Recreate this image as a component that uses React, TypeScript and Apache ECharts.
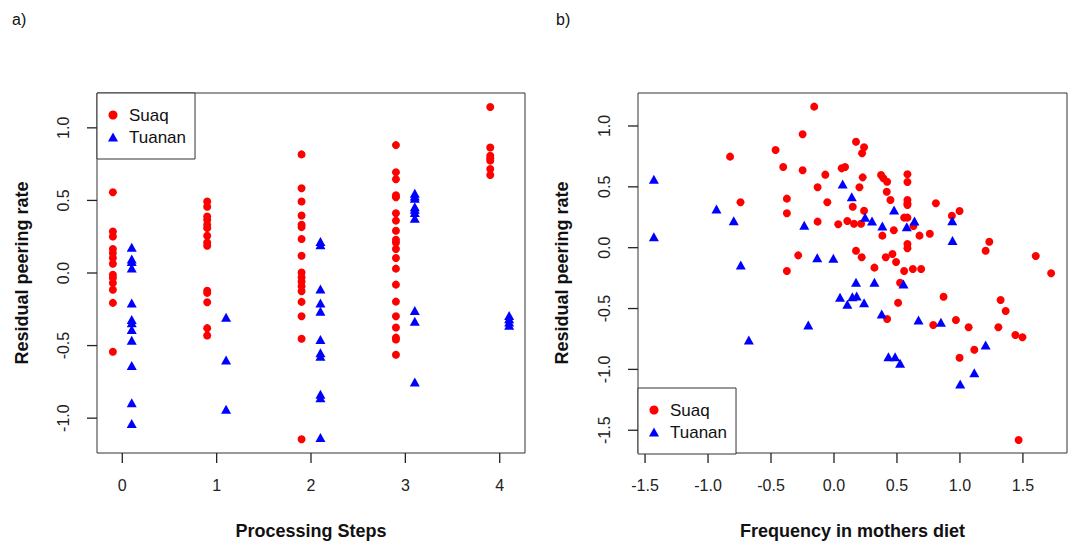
import React, { useEffect, useRef } from "react";
import * as echarts from "echarts";

// ---------- Data: panel a) residual peering rate by processing steps ----------
const steps = [0, 1, 2, 3, 4];
const stepTicks = [0, 1, 2, 3, 4];

const suaqByStep: number[][] = [
  [0.556, 0.286, 0.251, 0.165, 0.137, 0.103, 0.064, -0.012, -0.034, -0.069, -0.115, -0.206, -0.543],
  [0.492, 0.457, 0.389, 0.366, 0.332, 0.309, 0.256, 0.21, 0.188, -0.122, -0.137, -0.202, -0.38, -0.431],
  [0.817, 0.584, 0.492, 0.396, 0.332, 0.316, 0.234, 0.119, 0.004, -0.03, -0.058, -0.092, -0.126, -0.199, -0.298, -0.453, -1.145],
  [0.881, 0.694, 0.646, 0.536, 0.522, 0.412, 0.361, 0.291, 0.229, 0.21, 0.165, 0.103, 0.03, -0.08, -0.197, -0.298, -0.376, -0.445, -0.458, -0.563],
  [1.144, 0.865, 0.808, 0.79, 0.774, 0.716, 0.675],
];

const tuananByStep: number[][] = [
  [0.178, 0.096, 0.08, 0.034, -0.206, -0.321, -0.343, -0.389, -0.463, -0.637, -0.893, -1.037],
  [-0.305, -0.6, -0.939],
  [0.217, 0.194, -0.11, -0.206, -0.264, -0.458, -0.55, -0.573, -0.836, -0.859, -1.133],
  [0.549, 0.531, 0.515, 0.457, 0.439, 0.416, 0.378, -0.259, -0.332, -0.751],
  [-0.293, -0.316, -0.337, -0.36],
];

const leftYTicks = [-1, -0.5, 0, 0.5, 1];

// ---------- Data: panel b) residual peering rate vs frequency in mothers diet ----------
const suaqDiet: [number, number][] = [
  [-0.157, 1.159], [-0.249, 0.932], [-0.464, 0.803], [-0.825, 0.748], [-0.403, 0.663],
  [-0.249, 0.636], [-0.069, 0.6], [-0.13, 0.496], [-0.742, 0.373], [-0.053, 0.373],
  [-0.374, 0.403], [-0.374, 0.283], [-0.13, 0.214], [-0.284, -0.063], [-0.374, -0.191],
  [0.175, 0.871], [0.239, 0.825], [0.223, 0.776], [0.061, 0.652], [0.088, 0.663],
  [0.228, 0.578], [0.202, 0.496], [0.374, 0.597], [0.392, 0.57], [0.422, 0.542],
  [0.583, 0.603], [0.583, 0.54], [0.419, 0.46], [0.448, 0.392], [0.583, 0.392],
  [0.583, 0.364], [0.583, 0.351], [0.809, 0.365], [0.149, 0.337], [0.239, 0.304],
  [0.997, 0.302], [0.936, 0.263], [0.034, 0.192], [0.106, 0.219], [0.159, 0.197],
  [0.215, 0.197], [0.557, 0.247], [0.583, 0.247], [0.631, 0.178], [0.475, 0.143],
  [0.384, 0.099], [0.679, 0.099], [0.761, 0.115], [0.583, 0.03], [0.583, -0.005],
  [1.233, 0.049], [1.204, -0.025], [0.175, -0.025], [0.22, -0.079], [0.411, -0.079],
  [0.464, -0.052], [0.493, -0.118], [0.321, -0.164], [0.557, -0.191], [0.626, -0.175],
  [0.692, -0.175], [1.602, -0.068], [1.724, -0.21], [0.525, -0.288], [0.509, -0.452],
  [0.87, -0.403], [1.323, -0.43], [1.363, -0.52], [0.422, -0.586], [0.788, -0.635],
  [0.968, -0.594], [1.069, -0.654], [1.305, -0.654], [1.44, -0.717], [1.496, -0.736],
  [1.114, -0.838], [0.997, -0.904], [1.466, -1.58],
];

const tuananDiet: [number, number][] = [
  [-1.43, 0.562], [-1.43, 0.09], [-0.933, 0.318], [-0.796, 0.222], [-0.74, -0.142],
  [-0.676, -0.758], [-0.236, 0.184], [-0.204, -0.635], [-0.133, -0.082], [-0.005, -0.087],
  [0.069, 0.523], [0.141, 0.419], [0.477, 0.31], [0.247, 0.25], [0.302, 0.219],
  [0.384, 0.178], [0.578, 0.173], [0.639, 0.219], [0.939, 0.222], [0.941, 0.06],
  [0.175, -0.284], [0.321, -0.284], [0.552, -0.298], [0.048, -0.408], [0.106, -0.465],
  [0.146, -0.403], [0.18, -0.397], [0.239, -0.452], [0.379, -0.545], [0.671, -0.594],
  [0.849, -0.613], [1.204, -0.8], [0.432, -0.896], [0.485, -0.896], [0.525, -0.95],
  [1.114, -1.027], [1.002, -1.12],
];

const rightXTicks = [-1.5, -1, -0.5, 0, 0.5, 1, 1.5];
const rightYTicks = [-1.5, -1, -0.5, 0, 0.5, 1];

const groupOffset = 0.1;

// axis ranges (R default: data range widened by 4 %)
const leftXRange: [number, number] = [-0.268, 4.268];
const leftYRange: [number, number] = [-1.24, 1.24];
const rightXRange: [number, number] = [-1.556, 1.85];
const rightYRange: [number, number] = [-1.687, 1.271];
const unitRange: [number, number] = [0, 1];

const FONT = '"Liberation Sans", Arial, Helvetica, sans-serif';
const RED = "#ff0000";
const BLUE = "#0000ff";
const AXIS = "#333333";
const TICK = "#222222";
const TICK_LEN = 10;

// plot boxes
const boxA = { left: 97, top: 93, width: 428, height: 360 };
const boxB = { left: 638, top: 93, width: 429, height: 360 };

function valueAxis(gridIndex: number, range: [number, number], ticks: number[], vertical: boolean, decimals: number) {
  return {
    type: "value",
    gridIndex,
    min: range[0],
    max: range[1],
    axisLine: { show: false, onZero: false },
    splitLine: { show: false },
    axisTick: { show: false },
    axisLabel: {
      customValues: ticks,
      margin: vertical ? 26 : 24,
      rotate: vertical ? 90 : 0,
      fontSize: 16,
      color: "#222",
      fontFamily: FONT,
      formatter: (v: number) => v.toFixed(decimals),
    },
  };
}

function hiddenAxis(gridIndex: number, range: [number, number]) {
  return { type: "value", gridIndex, min: range[0], max: range[1], show: false, splitLine: { show: false } };
}

// Tick marks: each drawn in a thin strip grid that shares the panel's axis range.
function tickSeries(gridIdx: number, ticks: number[], vertical: boolean) {
  return {
    type: "custom",
    xAxisIndex: gridIdx,
    yAxisIndex: gridIdx,
    clip: false,
    data: ticks.map((v) => (vertical ? [0, v] : [v, 0])),
    renderItem: (_params: any, api: any) => {
      const v0 = api.value(0);
      const v1 = api.value(1);
      const a = vertical ? api.coord([0, v1]) : api.coord([v0, 0]);
      const b = vertical ? api.coord([1, v1]) : api.coord([v0, 1]);
      return { type: "line", shape: { x1: a[0], y1: a[1], x2: b[0], y2: b[1] }, style: { stroke: TICK, lineWidth: 1.3 } };
    },
  };
}

function legendAt(left: number, top: number) {
  return {
    data: [
      { name: "Suaq", icon: "circle" },
      { name: "Tuanan", icon: "triangle" },
    ],
    orient: "vertical",
    left,
    top,
    itemWidth: 10,
    itemHeight: 9,
    itemGap: 4,
    padding: [13, 9, 13, 11],
    borderColor: AXIS,
    borderWidth: 1,
    borderRadius: 0,
    backgroundColor: "#ffffff",
    selectedMode: false,
    textStyle: { fontSize: 17, fontFamily: FONT, color: "#111", lineHeight: 18, padding: [0, 0, 0, 6] },
  };
}

export default function App() {
  const ref = useRef<HTMLDivElement>(null);

  useEffect(() => {
    if (!ref.current) return;
    const chart = echarts.init(ref.current, undefined, { renderer: "svg" });

    const suaqLeft: [number, number][] = [];
    const tuananLeft: [number, number][] = [];
    steps.forEach((s, i) => {
      suaqByStep[i].forEach((v) => suaqLeft.push([s - groupOffset, v]));
      tuananByStep[i].forEach((v) => tuananLeft.push([s + groupOffset, v]));
    });

    const red = { color: RED, opacity: 1 };
    const blue = { color: BLUE, opacity: 1 };

    const option = {
      animation: false,
      grid: [
        { ...boxA, show: true, borderColor: AXIS, borderWidth: 1 },
        { ...boxB, show: true, borderColor: AXIS, borderWidth: 1 },
        // tick strips: below and left of each plot box
        { left: boxA.left, top: boxA.top + boxA.height, width: boxA.width, height: TICK_LEN, show: false },
        { left: boxA.left - TICK_LEN, top: boxA.top, width: TICK_LEN, height: boxA.height, show: false },
        { left: boxB.left, top: boxB.top + boxB.height, width: boxB.width, height: TICK_LEN, show: false },
        { left: boxB.left - TICK_LEN, top: boxB.top, width: TICK_LEN, height: boxB.height, show: false },
      ],
      xAxis: [
        valueAxis(0, leftXRange, stepTicks, false, 0),
        valueAxis(1, rightXRange, rightXTicks, false, 1),
        hiddenAxis(2, leftXRange),
        hiddenAxis(3, unitRange),
        hiddenAxis(4, rightXRange),
        hiddenAxis(5, unitRange),
      ],
      yAxis: [
        valueAxis(0, leftYRange, leftYTicks, true, 1),
        valueAxis(1, rightYRange, rightYTicks, true, 1),
        hiddenAxis(2, unitRange),
        hiddenAxis(3, leftYRange),
        hiddenAxis(4, unitRange),
        hiddenAxis(5, rightYRange),
      ],
      legend: [legendAt(97, 93), legendAt(638, 388)],
      series: [
        { type: "scatter", name: "Suaq", xAxisIndex: 0, yAxisIndex: 0, symbol: "circle", symbolSize: 8, itemStyle: red, data: suaqLeft },
        { type: "scatter", name: "Tuanan", xAxisIndex: 0, yAxisIndex: 0, symbol: "triangle", symbolSize: [10, 9], itemStyle: blue, data: tuananLeft },
        { type: "scatter", name: "Suaq", xAxisIndex: 1, yAxisIndex: 1, symbol: "circle", symbolSize: 8, itemStyle: red, data: suaqDiet },
        { type: "scatter", name: "Tuanan", xAxisIndex: 1, yAxisIndex: 1, symbol: "triangle", symbolSize: [10, 9], itemStyle: blue, data: tuananDiet },
        tickSeries(2, stepTicks, false),
        tickSeries(3, leftYTicks, true),
        tickSeries(4, rightXTicks, false),
        tickSeries(5, rightYTicks, true),
      ],
      graphic: [
        { type: "text", left: 12, top: 11, style: { text: "a)", fontSize: 16, fontFamily: FONT, fill: "#111" } },
        { type: "text", left: 556, top: 11, style: { text: "b)", fontSize: 16, fontFamily: FONT, fill: "#111" } },
        { type: "text", x: 311, y: 531, style: { text: "Processing Steps", fontSize: 18, fontWeight: "bold", fontFamily: FONT, fill: "#111", align: "center", verticalAlign: "middle" } },
        { type: "text", x: 852.5, y: 531, style: { text: "Frequency in mothers diet", fontSize: 18, fontWeight: "bold", fontFamily: FONT, fill: "#111", align: "center", verticalAlign: "middle" } },
        { type: "text", x: 22, y: 273, rotation: Math.PI / 2, style: { text: "Residual peering rate", fontSize: 18, fontWeight: "bold", fontFamily: FONT, fill: "#111", align: "center", verticalAlign: "middle" } },
        { type: "text", x: 562, y: 273, rotation: Math.PI / 2, style: { text: "Residual peering rate", fontSize: 18, fontWeight: "bold", fontFamily: FONT, fill: "#111", align: "center", verticalAlign: "middle" } },
      ],
    };

    chart.setOption(option as any);
    return () => chart.dispose();
  }, []);

  return <div ref={ref} style={{ position: "fixed", left: 0, top: 0, width: 1072, height: 541, background: "#fff" }} />;
}
